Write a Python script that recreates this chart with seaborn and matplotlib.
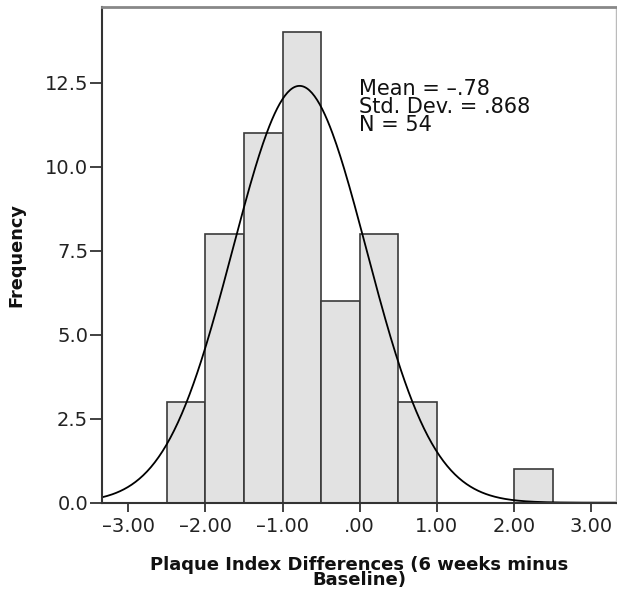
import numpy as np
import pandas as pd
import seaborn as sns
import matplotlib.pyplot as plt

# Histogram bins (width 0.5) and their counts
bin_edges = [-2.5, -2.0, -1.5, -1.0, -0.5, 0.0, 0.5, 1.0, 1.5, 2.0, 2.5]
bin_counts = [3, 8, 11, 14, 6, 8, 3, 0, 0, 1]

# Summary statistics shown in the chart
mean_val = -0.78
sd_val = 0.868
n_val = 54

x_ticks = [-3, -2, -1, 0, 1, 2, 3]
x_ticklabels = ['\u20133.00', '\u20132.00', '\u20131.00', '.00', '1.00', '2.00', '3.00']
y_ticks = [0, 2.5, 5, 7.5, 10, 12.5]
y_ticklabels = ['0.0', '2.5', '5.0', '7.5', '10.0', '12.5']

sns.set_style('white')
plt.rcParams['font.family'] = ['DejaVu Sans']

fig = plt.figure(figsize=(6.17, 5.9), dpi=100)
ax = fig.add_axes([0.1653, 0.148, 0.833, 0.8397])

centers = [(a + b) / 2 for a, b in zip(bin_edges[:-1], bin_edges[1:])]
df = pd.DataFrame({'x': centers, 'w': bin_counts})
sns.histplot(data=df, x='x', weights='w', bins=bin_edges, ax=ax,
             color='#e2e2e2', edgecolor='#3a3a3a', linewidth=1.2, alpha=1)

# Fitted normal curve scaled to counts
xlim = (-3.34, 3.32)
xs = np.linspace(xlim[0], xlim[1], 400)
bw = bin_edges[1] - bin_edges[0]
ys = n_val * bw / (sd_val * np.sqrt(2 * np.pi)) * np.exp(-0.5 * ((xs - mean_val) / sd_val) ** 2)
sns.lineplot(x=xs, y=ys, ax=ax, color='black', linewidth=1.3)

ax.set_xlim(*xlim)
ax.set_ylim(0, 14.75)
ax.set_xticks(x_ticks)
ax.set_xticklabels(x_ticklabels, fontsize=14, color='#222222')
ax.set_yticks(y_ticks)
ax.set_yticklabels(y_ticklabels, fontsize=14, color='#222222')
ax.tick_params(axis='x', direction='out', length=6.5, width=1.3, pad=4, color='#333333', bottom=True)
ax.tick_params(axis='y', direction='out', length=9, width=1.3, pad=1, color='#333333', left=True)

ax.set_xlabel('Plaque Index Differences (6 weeks minus\nBaseline)', fontsize=13,
              fontweight='bold', linespacing=0.8, labelpad=14, color='#111111')
ax.set_ylabel('Frequency', fontsize=12.8, fontweight='bold', labelpad=14, color='#111111')

for side in ['left', 'bottom']:
    ax.spines[side].set_color('#333333')
    ax.spines[side].set_linewidth(1.5)
ax.spines['top'].set_color('#888888')
ax.spines['top'].set_linewidth(2)
ax.spines['right'].set_color('#bbbbbb')
ax.spines['right'].set_linewidth(1)

ax.text(0.5, 0.855, f'Mean = \u2013.78\nStd. Dev. = .868\nN = {n_val}',
        transform=ax.transAxes, fontsize=15, linespacing=0.88,
        va='top', ha='left', color='#111111')

fig.savefig('out.png', dpi=100)
